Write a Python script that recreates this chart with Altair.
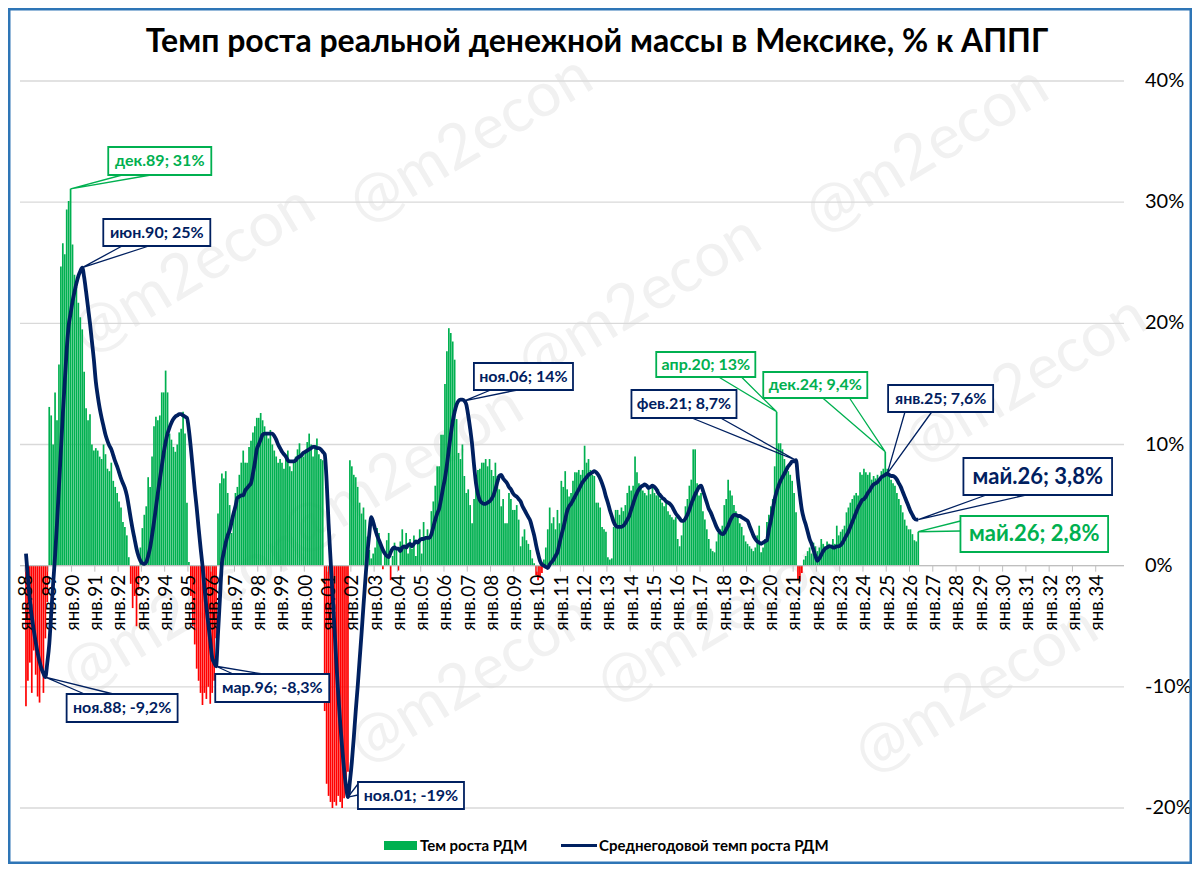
import altair as alt
import pandas as pd

GREEN = "#00B050"
RED = "#FF0000"
NAVY = "#002060"
GRID = "#D9D9D9"
AXIS = "#BFBFBF"
FRAME = "#2E75B6"
FONT = "Lato, 'Open Sans', sans-serif"

TITLE = "Темп роста реальной денежной массы в Мексике, % к АППГ"
LEGEND_BAR = "Тем роста РДМ"
LEGEND_LINE = "Среднегодовой темп роста РДМ"

# ---------------- monthly real money growth, % y/y (bars), Jan-1988 ... May-2026
growth_1988_1997 = [
    [-11.6, -9.5, -8.0, -10.5, -7.0, -9.0, -10.8, -11.3, -8.5, -10.5, -6.0, -3.0],
    [13.1, 12.4, 10.0, 14.3, 12.0, 16.6, 24.7, 26.6, 25.7, 29.4, 30.1, 31.1],
    [26.5, 24.0, 23.0, 21.7, 20.5, 19.5, 16.0, 13.0, 12.0, 12.5, 10.0, 9.5],
    [9.7, 9.5, 9.0, 8.8, 10.0, 9.2, 8.0, 7.8, 8.5, 7.0, 6.5, 6.0],
    [5.3, 4.8, 3.6, 3.2, 2.5, 0.7, -1.5, -3.5, -2.5, -5.0, -2.0, 1.5],
    [3.1, 4.2, 4.9, 7.3, 6.5, 9.0, 11.5, 12.3, 12.0, 12.4, 14.3, 14.3],
    [16.1, 14.3, 10.9, 10.4, 9.8, 9.4, 10.0, 11.0, 11.3, 12.7, 10.9, 5.2],
    [0.3, -2.5, -5.0, -6.5, -8.5, -9.5, -10.5, -11.5, -10.5, -11.0, -10.0, -11.4],
    [-10.5, -9.5, -6.0, 4.3, 6.8, 7.6, 7.2, 7.8, 6.0, 5.0, 2.7, 4.3],
    [6.0, 6.5, 7.5, 8.5, 9.5, 8.5, 8.5, 9.8, 10.3, 11.0, 11.5, 12.2],
]
growth_1998_2007 = [
    [12.2, 12.6, 12.0, 11.5, 11.0, 10.5, 11.2, 10.0, 9.5, 9.0, 8.5, 8.8],
    [8.5, 8.0, 8.8, 9.5, 8.2, 7.8, 8.6, 9.0, 9.6, 10.1, 9.3, 9.0],
    [9.5, 10.2, 10.9, 10.0, 9.0, 9.8, 10.5, 9.2, 8.8, 8.7, -12.0, -18.0],
    [-19.0, -19.5, -20.0, -19.5, -19.8, -19.0, -19.5, -20.0, -19.2, -18.5, -17.0, 8.7],
    [8.2, 7.5, 7.3, 6.5, 5.2, 4.3, 4.8, 3.8, 2.4, 1.3, 0.6, 1.0],
    [1.5, 3.1, 2.7, 1.6, -0.3, 1.0, 2.1, 2.7, -1.2, 0.8, 1.9, 1.5],
    [-0.4, 2.0, 3.0, 1.5, 2.7, 1.0, 2.2, 1.4, 2.5, 0.8, 1.8, 3.0],
    [1.0, 3.6, 2.2, 3.0, 2.5, 4.5, 5.3, 6.6, 8.2, 8.2, 10.8, 10.8],
    [15.0, 17.7, 19.6, 19.2, 18.5, 17.0, 12.1, 9.3, 8.8, 10.0, 7.4, 6.0],
    [6.3, 5.0, 3.5, 5.5, 7.1, 7.9, 8.0, 8.5, 8.5, 8.8, 8.2, 8.8],
]
growth_2008_2017 = [
    [7.9, 7.4, 8.5, 7.4, 6.3, 4.9, 5.5, 3.5, 3.5, 6.0, 5.5, 4.6],
    [4.6, 5.0, 3.8, 1.6, 2.4, 3.0, 2.1, 1.8, 1.3, 0.6, 0.2, -0.8],
    [-1.2, -1.0, -0.6, 0.5, 1.5, 3.0, 4.8, 3.5, 4.0, 3.0, 4.6, 3.5],
    [7.0, 6.5, 7.8, 6.3, 5.7, 6.0, 7.0, 7.7, 7.7, 7.9, 7.5, 7.9],
    [9.9, 8.5, 8.8, 7.9, 7.5, 7.4, 5.2, 5.2, 4.8, 3.2, 3.0, 2.8],
    [0.7, 0.5, 0.6, 3.2, 4.6, 4.6, 4.2, 4.8, 4.5, 5.0, 6.0, 6.6],
    [6.2, 6.6, 9.0, 7.7, 6.8, 6.5, 6.2, 6.0, 5.8, 6.3, 5.9, 6.6],
    [6.0, 5.8, 6.3, 5.5, 5.2, 4.9, 5.3, 4.5, 4.2, 4.0, 3.8, 4.0],
    [2.2, 1.6, 2.5, 3.8, 4.9, 5.5, 6.6, 7.1, 9.6, 9.6, 6.8, 5.8],
    [6.0, 4.5, 3.8, 3.0, 2.2, 1.4, 1.2, 1.1, 2.0, 2.7, 3.0, 3.3],
]
growth_2018_2026 = [
    [5.0, 5.5, 7.1, 6.2, 5.8, 5.0, 4.5, 4.0, 3.5, 3.2, 2.5, 2.0],
    [1.8, 1.6, 1.4, 1.2, 1.5, 2.5, 3.3, 1.1, 1.5, 2.2, 3.6, 4.2],
    [4.9, 5.5, 8.2, 12.7, 10.1, 10.1, 9.6, 8.8, 8.2, 7.8, 7.5, 7.0],
    [6.0, 4.4, -1.1, -1.3, -0.6, 0.5, 0.8, 1.2, 1.5, 1.0, 1.9, 1.6],
    [1.2, 1.5, 2.2, 1.8, 1.6, 2.0, 1.8, 1.6, 2.2, 1.8, 3.3, 2.5],
    [2.8, 3.0, 3.3, 4.4, 4.8, 5.2, 5.5, 5.8, 6.0, 5.8, 7.7, 7.5],
    [8.0, 7.7, 7.5, 7.7, 7.1, 7.4, 7.2, 7.5, 7.1, 7.8, 8.0, 9.4],
    [8.0, 7.5, 7.1, 6.8, 6.6, 6.0, 5.5, 5.0, 4.4, 3.8, 3.3, 3.0],
    [3.0, 2.6, 2.1, 2.0, 2.8],
]

# ---------------- average annual growth (line)
avg_1988_1997 = [
    [1.0, -1.0, -2.8, -4.2, -5.3, -6.3, -7.2, -7.9, -8.5, -8.9, -9.2, -8.0],
    [-6.5, -4.0, -1.5, 0.8, 3.5, 6.5, 9.5, 12.5, 15.2, 17.8, 19.8, 20.8],
    [21.8, 22.6, 23.3, 23.9, 24.3, 24.6, 23.8, 22.6, 21.3, 20.0, 18.5, 17.0],
    [15.2, 14.0, 13.0, 12.2, 11.5, 10.8, 10.3, 9.9, 9.6, 9.1, 8.6, 8.2],
    [7.7, 7.2, 6.8, 6.4, 5.8, 4.9, 3.9, 3.0, 2.2, 1.4, 0.8, 0.4],
    [0.2, 0.15, 0.3, 0.8, 1.5, 2.5, 3.6, 4.8, 6.0, 7.1, 8.2, 9.3],
    [10.2, 10.9, 11.4, 11.8, 12.1, 12.3, 12.4, 12.5, 12.5, 12.4, 12.3, 12.2],
    [11.2, 9.7, 8.0, 6.3, 4.8, 3.1, 1.5, 0.0, -1.8, -3.4, -4.8, -6.2],
    [-7.6, -8.0, -8.3, -5.6, -2.7, 0.2, 1.1, 1.9, 2.5, 2.9, 3.6, 4.3],
    [4.9, 5.6, 5.7, 5.8, 5.8, 6.2, 6.4, 6.6, 6.8, 7.6, 8.5, 9.6],
]
avg_1998_2007 = [
    [10.0, 10.4, 10.8, 10.9, 10.9, 10.9, 10.9, 10.9, 10.7, 10.4, 10.0, 9.7],
    [9.4, 9.2, 9.0, 8.7, 8.6, 8.6, 8.6, 8.7, 8.9, 9.0, 9.1, 9.3],
    [9.4, 9.5, 9.6, 9.7, 9.8, 9.8, 9.7, 9.7, 9.6, 9.4, 9.2, 7.0],
    [3.5, 0.6, -2.2, -5.0, -8.0, -10.6, -13.0, -15.0, -16.8, -18.2, -19.1, -17.8],
    [-16.2, -14.2, -12.0, -10.0, -7.8, -5.6, -3.3, -1.1, 1.0, 2.6, 4.0, 3.6],
    [3.0, 2.5, 2.1, 1.7, 1.3, 1.0, 0.8, 0.7, 1.1, 1.4, 1.5, 1.4],
    [1.4, 1.2, 1.5, 1.6, 1.5, 1.7, 1.8, 1.6, 1.8, 2.0, 1.9, 2.1],
    [2.2, 2.2, 2.3, 2.3, 2.3, 2.6, 3.2, 3.8, 4.3, 4.7, 5.5, 6.4],
    [7.2, 8.3, 9.6, 10.8, 11.9, 12.7, 13.3, 13.6, 13.7, 13.7, 13.6, 13.3],
    [12.4, 11.3, 10.0, 8.3, 6.8, 5.9, 5.4, 5.2, 5.1, 5.1, 5.2, 5.3],
]
avg_2008_2017 = [
    [5.5, 5.8, 6.3, 6.9, 7.4, 7.5, 7.2, 7.0, 6.8, 6.5, 6.3, 6.0],
    [5.8, 5.7, 5.5, 5.3, 4.9, 4.6, 4.3, 4.0, 3.7, 3.1, 2.5, 1.7],
    [1.0, 0.4, 0.1, 0.0, -0.1, -0.2, 0.1, 0.3, 0.5, 0.8, 1.1, 1.8],
    [2.5, 3.1, 3.8, 4.5, 4.9, 5.1, 5.4, 5.7, 6.0, 6.3, 6.6, 6.9],
    [7.1, 7.3, 7.5, 7.6, 7.7, 7.8, 7.7, 7.5, 7.2, 6.8, 6.3, 5.7],
    [5.2, 4.6, 4.1, 3.6, 3.3, 3.2, 3.2, 3.2, 3.3, 3.5, 3.8, 4.1],
    [4.6, 5.1, 5.6, 6.0, 6.3, 6.5, 6.6, 6.7, 6.6, 6.4, 6.5, 6.6],
    [6.5, 6.3, 6.0, 5.8, 5.6, 5.5, 5.3, 5.2, 5.1, 4.9, 4.6, 4.3],
    [4.1, 3.9, 3.7, 3.7, 3.9, 4.2, 4.6, 5.1, 5.5, 5.9, 6.2, 6.5],
    [6.6, 6.2, 5.7, 5.2, 4.7, 4.4, 4.0, 3.6, 3.2, 2.9, 2.7, 2.6],
]
avg_2018_2026 = [
    [2.7, 3.0, 3.3, 3.7, 4.0, 4.2, 4.2, 4.1, 4.1, 4.0, 3.9, 3.8],
    [3.7, 3.3, 2.9, 2.5, 2.2, 2.0, 1.9, 1.8, 1.9, 2.0, 2.1, 3.0],
    [3.7, 4.6, 5.5, 6.1, 6.6, 7.0, 7.3, 7.6, 7.9, 8.2, 8.4, 8.6],
    [8.6, 8.7, 7.2, 5.8, 4.6, 3.9, 3.4, 2.8, 2.2, 1.8, 1.3, 0.8],
    [0.4, 0.6, 0.9, 1.2, 1.4, 1.5, 1.6, 1.6, 1.5, 1.5, 1.6, 1.6],
    [1.7, 1.9, 2.2, 2.5, 2.8, 3.2, 3.6, 4.0, 4.4, 4.8, 5.1, 5.4],
    [5.5, 5.7, 6.0, 6.2, 6.5, 6.7, 6.8, 6.9, 7.1, 7.3, 7.4, 7.5],
    [7.6, 7.5, 7.4, 7.4, 7.3, 7.1, 6.8, 6.5, 6.1, 5.7, 5.3, 4.9],
    [4.5, 4.2, 3.9, 3.8, 3.8],
]

# axis tick labels
X_TICK_LABELS = ["янв.%02d" % (y % 100) for y in range(1988, 2035)]
Y_TICKS = [-20, -10, 0, 10, 20, 30, 40]
Y_TICK_LABELS = ["-20%", "-10%", "0%", "10%", "20%", "30%", "40%"]

# callouts: text, colour, font size, box (page px), wedge base points (page px), series, month index
CALLOUTS = [
    ("дек.89; 31%", GREEN, 16, (104, 147, 208, 175), [(118, 175), (147, 175)], "bar", 23),
    ("июн.90; 25%", NAVY, 16, (99, 219, 207, 246), [(118, 246), (145, 246)], "avg", 29),
    ("ноя.88; -9,2%", NAVY, 16, (62, 694, 174, 722), [(80, 694), (109, 694)], "avg", 10),
    ("мар.96; -8,3%", NAVY, 16, (212, 674, 327, 702), [(230, 674), (260, 674)], "avg", 98),
    ("ноя.01; -19%", NAVY, 16, (356, 782, 463, 809), [(356, 784), (356, 795)], "avg", 166),
    ("ноя.06; 14%", NAVY, 16, (473, 363, 573, 390), [(490, 390), (517, 390)], "avg", 226),
    ("апр.20; 13%", GREEN, 16, (657, 352, 757, 377), [(720, 377), (743, 377)], "bar", 387),
    ("фев.21; 8,7%", NAVY, 16, (632, 390, 738, 418), [(693, 418), (722, 418)], "avg", 397),
    ("дек.24; 9,4%", GREEN, 16, (765, 372, 870, 398), [(825, 398), (852, 398)], "bar", 443),
    ("янв.25; 7,6%", NAVY, 16, (891, 385, 997, 412), [(908, 412), (935, 412)], "avg", 444),
    ("май.26; 3,8%", NAVY, 22, (967, 458, 1117, 495), [(990, 495), (1030, 495)], "avg", 460),
    ("май.26; 2,8%", GREEN, 22, (964, 516, 1113, 552), [(964, 521), (964, 531)], "bar", 460),
]

WATERMARK = "@m2econ"
WATERMARK_AT = [(470, 140), (930, 150), (190, 270), (640, 300), (1030, 380),
                (400, 470), (180, 610), (470, 680), (720, 620), (980, 690)]

# ---------------- layout
PLOT_W, PLOT_H = 1104, 727
PAD = {"left": 12, "top": 73, "right": 68, "bottom": 56}
X_DOM = [0, 564]
Y_DOM = [-20, 40]
OX, OY = 8 + PAD["left"], 8 + PAD["top"]
PX_PER_PCT = PLOT_H / (Y_DOM[1] - Y_DOM[0])


def to_m(px):
    return (px - OX) * (X_DOM[1] - X_DOM[0]) / PLOT_W + X_DOM[0]


def to_v(py):
    return Y_DOM[1] - (py - OY) / PX_PER_PCT


bars = [v for block in (growth_1988_1997, growth_1998_2007, growth_2008_2017, growth_2018_2026)
        for yr in block for v in yr]
avgs = [v for block in (avg_1988_1997, avg_1998_2007, avg_2008_2017, avg_2018_2026)
        for yr in block for v in yr]
n = min(len(bars), len(avgs))
df = pd.DataFrame({"m": [i + 0.5 for i in range(n)], "bar": bars[:n], "avg": avgs[:n]})

xs = alt.Scale(domain=X_DOM, nice=False, zero=False)
ys = alt.Scale(domain=Y_DOM, nice=False, zero=False)


def X(field):
    return alt.X(field, scale=xs, axis=None, title=None)


def Y(field):
    return alt.Y(field, scale=ys, axis=None, title=None)


# ---------- grid & y labels (right side)
ygrid_df = pd.DataFrame({"v": Y_TICKS, "lab": Y_TICK_LABELS})
grid_layer = alt.Chart(ygrid_df).mark_rule(color=GRID, strokeWidth=1.4).encode(
    y=Y("v:Q"), x=alt.value(0), x2=alt.value(PLOT_W))
ylab_layer = alt.Chart(ygrid_df).mark_text(
    font=FONT, fontSize=20, color="black", align="left", baseline="middle"
).encode(y=Y("v:Q"), x=alt.value(PLOT_W + 21), text="lab:N")

# ---------- x axis drawn at 0%
xt_df = pd.DataFrame({"t": [12 * k for k in range(len(X_TICK_LABELS))],
                      "lx": [12 * k + 0.7 for k in range(len(X_TICK_LABELS))],
                      "lab": X_TICK_LABELS,
                      "z": [0.0] * len(X_TICK_LABELS),
                      "tz": [-6 / PX_PER_PCT] * len(X_TICK_LABELS),
                      "lz": [-9 / PX_PER_PCT] * len(X_TICK_LABELS)})
zero_layer = alt.Chart(pd.DataFrame({"z": [0.0]})).mark_rule(color=AXIS, strokeWidth=1.4).encode(
    y=Y("z:Q"), x=alt.value(0), x2=alt.value(PLOT_W))
tick_layer = alt.Chart(xt_df).mark_rule(color=AXIS, strokeWidth=1).encode(
    x=X("t:Q"), y=Y("z:Q"), y2="tz:Q")
xlab_layer = alt.Chart(xt_df).mark_text(
    font=FONT, fontSize=19, color="black", angle=270, align="right", baseline="middle"
).encode(x=X("lx:Q"), y=Y("lz:Q"), text="lab:N")

# ---------- bars and line
bar_layer = alt.Chart(df).mark_bar(size=1.7).encode(
    x=X("m:Q"), y=Y("bar:Q"), y2=alt.datum(0),
    color=alt.when(alt.datum.bar >= 0).then(alt.value(GREEN)).otherwise(alt.value(RED)),
)
line_layer = alt.Chart(df).mark_line(color=NAVY, strokeWidth=3.8, interpolate="monotone").encode(
    x=X("m:Q"), y=Y("avg:Q"))

# ---------- watermarks
wm_df = pd.DataFrame({"wx": [to_m(p[0]) for p in WATERMARK_AT],
                      "wy": [to_v(p[1]) for p in WATERMARK_AT],
                      "t": [WATERMARK] * len(WATERMARK_AT)})
wm_layer = alt.Chart(wm_df).mark_text(angle=329, fontSize=62, color="#F1F1F1", font=FONT,
                                      align="center", baseline="middle").encode(
    x=X("wx:Q"), y=Y("wy:Q"), text="t:N")

# ---------- callouts
series = {"bar": df["bar"].tolist(), "avg": df["avg"].tolist()}
box_rows, wedge_rows = [], []
for i, (txt, col, fs, box, base, ser, mi) in enumerate(CALLOUTS):
    x1, y1, x2, y2 = box
    box_rows.append({"id": i, "x1": to_m(x1), "x2": to_m(x2), "y1": to_v(y1), "y2": to_v(y2),
                     "cx": to_m((x1 + x2) / 2), "cy": to_v((y1 + y2) / 2),
                     "label": txt, "col": col, "fs": fs})
    tip = (mi + 0.5, series[ser][mi])
    pts = [(to_m(base[0][0]), to_v(base[0][1])), tip, (to_m(base[1][0]), to_v(base[1][1]))]
    for o, (px, py) in enumerate(pts):
        wedge_rows.append({"id": i, "o": o, "px": px, "py": py, "col": col})
box_df = pd.DataFrame(box_rows)
wedge_df = pd.DataFrame(wedge_rows)

wedge_layer = alt.Chart(wedge_df).mark_line(strokeWidth=1.3).encode(
    x=X("px:Q"), y=Y("py:Q"), detail="id:N", order="o:Q", color=alt.Color("col:N", scale=None))
box_layer = alt.Chart(box_df).mark_rect(fill="white", strokeWidth=1.8).encode(
    x=X("x1:Q"), x2="x2:Q", y=Y("y1:Q"), y2="y2:Q", stroke=alt.Stroke("col:N", scale=None))
box_text = alt.Chart(box_df).mark_text(font=FONT, fontWeight="bold", align="center",
                                       baseline="middle").encode(
    x=X("cx:Q"), y=Y("cy:Q"), text="label:N",
    color=alt.Color("col:N", scale=None), size=alt.Size("fs:Q", scale=None))

# ---------- title
title_layer = alt.Chart(pd.DataFrame({"t": [TITLE]})).mark_text(
    font=FONT, fontSize=32, fontWeight="bold", color="black", align="center", baseline="middle"
).encode(text="t:N", x=alt.value(597 - OX), y=alt.value(42 - OY))

# ---------- legend
leg_df = pd.DataFrame({"t": [0]})
leg_rect = alt.Chart(leg_df).mark_rect(color=GREEN).encode(
    x=alt.value(384 - OX), x2=alt.value(417 - OX), y=alt.value(841 - OY), y2=alt.value(850 - OY))
leg_rule = alt.Chart(leg_df).mark_rule(color=NAVY, strokeWidth=3).encode(
    x=alt.value(561 - OX), x2=alt.value(597 - OX), y=alt.value(845.5 - OY))
leg_t1 = alt.Chart(pd.DataFrame({"t": [LEGEND_BAR]})).mark_text(
    font=FONT, fontSize=15, fontWeight="bold", color="black", align="left", baseline="middle"
).encode(text="t:N", x=alt.value(420 - OX), y=alt.value(846 - OY))
leg_t2 = alt.Chart(pd.DataFrame({"t": [LEGEND_LINE]})).mark_text(
    font=FONT, fontSize=15, fontWeight="bold", color="black", align="left", baseline="middle"
).encode(text="t:N", x=alt.value(599 - OX), y=alt.value(846 - OY))

# ---------- outer frame
frame = alt.Chart(leg_df).mark_rect(fill="white", fillOpacity=0, stroke=FRAME, strokeWidth=2.5).encode(
    x=alt.value(-PAD["left"] + 1.25), x2=alt.value(PLOT_W + PAD["right"] - 1.25),
    y=alt.value(-PAD["top"] + 1.25), y2=alt.value(PLOT_H + PAD["bottom"] - 1.25))

chart = alt.layer(
    wm_layer, grid_layer, ylab_layer, bar_layer, zero_layer, tick_layer, xlab_layer, line_layer,
    wedge_layer, box_layer, box_text, title_layer, leg_rect, leg_rule, leg_t1, leg_t2, frame,
).properties(
    width=PLOT_W, height=PLOT_H, padding=PAD,
    autosize=alt.AutoSizeParams(type="none"), background="white",
).configure_view(stroke=None)

chart.save("out.html", embed_options={"renderer": "svg", "actions": False})
